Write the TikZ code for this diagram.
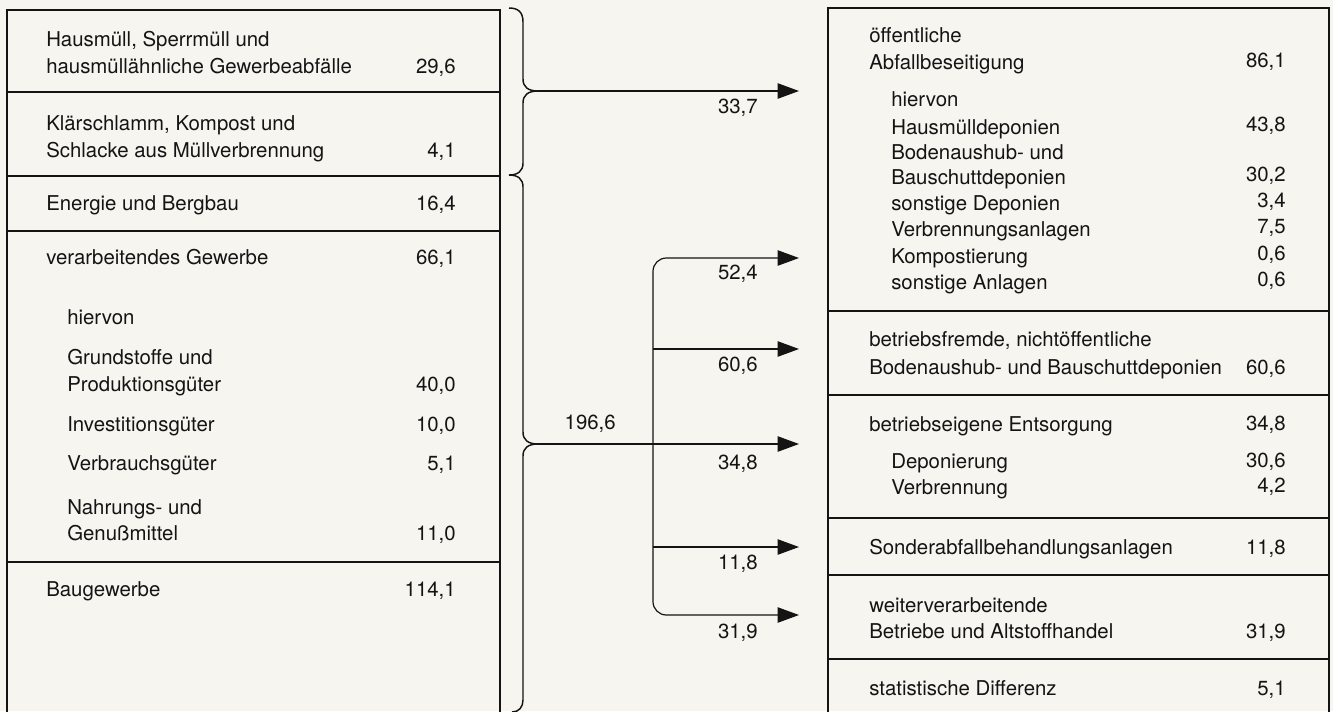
\documentclass[tikz,border=0pt]{standalone}
\usepackage{fontspec}
\setmainfont{TeX Gyre Heros}
\usetikzlibrary{arrows.meta}
\definecolor{paper}{RGB}{246,245,239}
\definecolor{ink}{RGB}{20,20,20}

\begin{document}
\begin{tikzpicture}[x=0.75pt,y=0.75pt,yscale=-1,xscale=1,
  font=\fontsize{15.3}{18}\selectfont,
  txt/.style={anchor=base west,inner sep=0.75pt,text=ink},
  num/.style={anchor=base east,inner sep=0.75pt,text=ink},
  frame/.style={draw=ink,line width=0.9pt},
  flow/.style={draw=ink,line width=0.9pt,-{Triangle[length=16pt,width=11.5pt]}}]
%set diagram size 1333 x 711
\clip (0,0) rectangle (1333,711);
\fill[paper] (0,0) rectangle (1333,711);

%Shape: left frame (open at bottom)
\draw [frame] (7,720) -- (7,10) -- (500,10) -- (500,720) ;
\draw [frame] (7,92) -- (500,92) ;
\draw [frame] (7,176) -- (500,176) ;
\draw [frame] (7,231) -- (500,231) ;
\draw [frame] (7,562) -- (500,562) ;
%Shape: right frame (open at bottom)
\draw [frame] (828,720) -- (828,8) -- (1329,8) -- (1329,720) ;
\draw [frame] (828,311) -- (1329,311) ;
\draw [frame] (828,395) -- (1329,395) ;
\draw [frame] (828,518) -- (1329,518) ;
\draw [frame] (828,575) -- (1329,575) ;
\draw [frame] (828,659) -- (1329,659) ;

% Text Node -- sources
\draw (45,46) node [txt] (lA1) {Hausmüll, Sperrmüll und};
\draw (45,73) node [txt] (lA2) {hausmüllähnliche Gewerbeabfälle};
\draw (457,73) node [num] (nA) {29,6};
\draw (45,130) node [txt] (lB1) {Klärschlamm, Kompost und};
\draw (45,157) node [txt] (lB2) {Schlacke aus Müllverbrennung};
\draw (457,157) node [num] (nB) {4,1};
\draw (45,210) node [txt] (lC) {Energie und Bergbau};
\draw (457,210) node [num] (nC) {16,4};
\draw (45,264) node [txt] (lD) {verarbeitendes Gewerbe};
\draw (457,264) node [num] (nD) {66,1};
\draw (66,324) node [txt] (lD1) {hiervon};
\draw (66,364) node [txt] (lD2) {Grundstoffe und};
\draw (66,391) node [txt] (lD3) {Produktionsgüter};
\draw (457,391) node [num] (nD3) {40,0};
\draw (66,431) node [txt] (lD4) {Investitionsgüter};
\draw (457,431) node [num] (nD4) {10,0};
\draw (66,470) node [txt] (lD5) {Verbrauchsgüter};
\draw (457,470) node [num] (nD5) {5,1};
\draw (66,514) node [txt] (lD6) {Nahrungs- und};
\draw (66,540) node [txt] (lD7) {Genußmittel};
\draw (457,540) node [num] (nD7) {11,0};
\draw (45,596) node [txt] (lE) {Baugewerbe};
\draw (457,596) node [num] (nE) {114,1};

% Text Node -- destinations
\draw (868,42) node [txt] (rA1) {öffentliche};
\draw (868,69) node [txt] (rA2) {Abfallbeseitigung};
\draw (1287,67) node [num] (mA) {86,1};
\draw (890,106) node [txt] (rA3) {hiervon};
\draw (890,134) node [txt] (rA4) {Hausmülldeponien};
\draw (1287,131) node [num] (mA4) {43,8};
\draw (890,159) node [txt] (rA5) {Bodenaushub- und};
\draw (890,184) node [txt] (rA6) {Bauschuttdeponien};
\draw (1287,181) node [num] (mA6) {30,2};
\draw (890,210) node [txt] (rA7) {sonstige Deponien};
\draw (1287,207) node [num] (mA7) {3,4};
\draw (890,236) node [txt] (rA8) {Verbrennungsanlagen};
\draw (1287,233) node [num] (mA8) {7,5};
\draw (890,263) node [txt] (rA9) {Kompostierung};
\draw (1287,260) node [num] (mA9) {0,6};
\draw (890,289) node [txt] (rA10) {sonstige Anlagen};
\draw (1287,286) node [num] (mA10) {0,6};
\draw (868,346) node [txt] (rB1) {betriebsfremde, nichtöffentliche};
\draw (868,374) node [txt] (rB2) {Bodenaushub- und Bauschuttdeponien};
\draw (1287,374) node [num] (mB) {60,6};
\draw (868,431) node [txt] (rC) {betriebseigene Entsorgung};
\draw (1287,430) node [num] (mC) {34,8};
\draw (890,468) node [txt] (rC1) {Deponierung};
\draw (1287,467) node [num] (mC1) {30,6};
\draw (890,494) node [txt] (rC2) {Verbrennung};
\draw (1287,492) node [num] (mC2) {4,2};
\draw (868,554) node [txt] (rD) {Sonderabfallbehandlungsanlagen};
\draw (1287,554) node [num] (mD) {11,8};
\draw (868,612) node [txt] (rE1) {weiterverarbeitende};
\draw (868,638) node [txt] (rE2) {Betriebe und Altstoffhandel};
\draw (1287,638) node [num] (mE) {31,9};
\draw (868,695) node [txt] (rF) {statistische Differenz};
\draw (1287,695) node [num] (mF) {5,1};

% brace points and arrow tips
\coordinate (b0) at (509,8);
\coordinate (c1) at (538,91);
\coordinate (k1) at (509,175);
\coordinate (c2) at (538,444);
\coordinate (b1) at (512,712);
\coordinate (j) at (653,444);
\coordinate (t1) at (799,91);
\coordinate (t2) at (799,258);
\coordinate (t3) at (799,349);
\coordinate (t4) at (799,444);
\coordinate (t5) at (799,547);
\coordinate (t6) at (799,615);

%Shape: double brace
\draw [ink,line width=1.1pt] (b0) .. controls (518,8) and (523,12) .. (523,22) -- (523,79)
  .. controls (523,87) and (528,91) .. (c1) .. controls (528,91) and (523,95) .. (523,103)
  -- (523,163) .. controls (523,171) and (518,175) .. (k1)
  .. controls (518,175) and (523,179) .. (523,187) -- (523,432)
  .. controls (523,440) and (528,444) .. (c2) .. controls (528,444) and (523,448) .. (523,456)
  -- (523,700) .. controls (523,707) and (519,712) .. (b1) ;

% Arrows
\draw [flow] (c1) -- (t1);
\draw [flow] (c2) -- (t4);
\draw [flow,rounded corners=10pt] (j) |- (t2);
\draw [flow] (t3 -| j) -- (t3);
\draw [flow] (t5 -| j) -- (t5);
\draw [flow,rounded corners=10pt] (j) |- (t6);

% Text Node -- flow values
\draw (759,113) node [num] (v1) {33,7};
\draw (759,279) node [num] (v2) {52,4};
\draw (759,371) node [num] (v3) {60,6};
\draw (617,429) node [num] (v0) {196,6};
\draw (759,469) node [num] (v4) {34,8};
\draw (759,569) node [num] (v5) {11,8};
\draw (759,638) node [num] (v6) {31,9};
\end{tikzpicture}
\end{document}
